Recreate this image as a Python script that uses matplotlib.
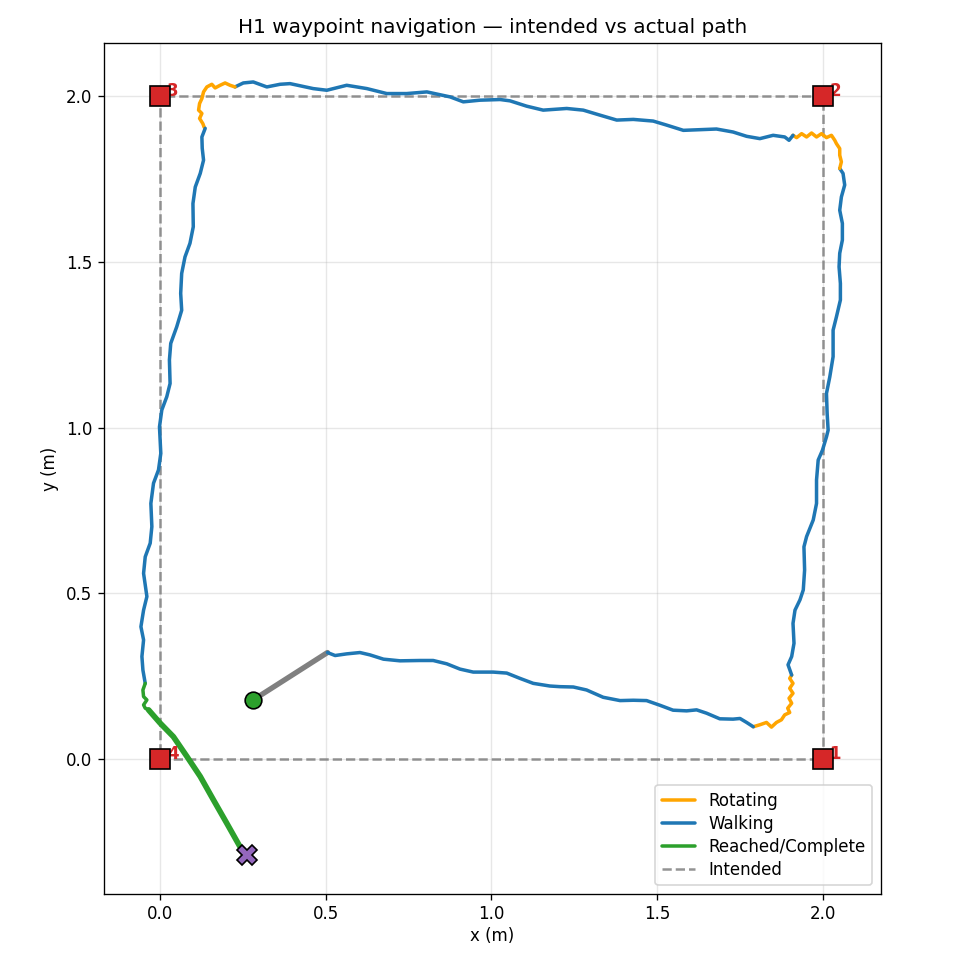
import numpy as np
import matplotlib
matplotlib.use("Agg")
import matplotlib.pyplot as plt

# waypoints of the intended square path
waypoints_x = [2.0, 2.0, 0.0, 0.0]
waypoints_y = [0.0, 2.0, 2.0, 0.0]
waypoint_labels = ["1", "2", "3", "4"]
intended_x = [0.0, 2.0, 2.0, 0.0, 0.0]
intended_y = [0.0, 0.0, 2.0, 2.0, 0.0]

start_xy = (0.281, 0.178)
end_xy = (0.263, -0.290)

# actual path, split by state (x, y in metres)
idle = [(0.281, 0.178), (0.505, 0.321)]

walk_bottom = [
    (0.505, 0.321), (0.528, 0.312), (0.563, 0.317), (0.603, 0.321), (0.633, 0.314),
    (0.674, 0.301), (0.724, 0.296), (0.784, 0.297), (0.824, 0.297), (0.865, 0.287),
    (0.905, 0.271), (0.945, 0.262), (1.005, 0.262), (1.046, 0.259), (1.086, 0.243),
    (1.126, 0.228), (1.176, 0.220), (1.207, 0.218), (1.247, 0.217), (1.287, 0.208),
    (1.337, 0.186), (1.388, 0.176), (1.428, 0.177), (1.468, 0.176), (1.508, 0.162),
    (1.548, 0.147), (1.589, 0.145), (1.619, 0.148), (1.649, 0.138), (1.689, 0.121),
    (1.729, 0.120), (1.750, 0.122), (1.770, 0.110), (1.790, 0.097),
]

rotate_1 = [
    (1.790, 0.097), (1.810, 0.103), (1.830, 0.110), (1.845, 0.096), (1.860, 0.110),
    (1.875, 0.118), (1.885, 0.133), (1.900, 0.140), (1.894, 0.153), (1.906, 0.168),
    (1.898, 0.183), (1.910, 0.198), (1.900, 0.213), (1.910, 0.228), (1.900, 0.243),
    (1.906, 0.253),
]

walk_right = [
    (1.906, 0.253), (1.895, 0.284), (1.906, 0.309), (1.913, 0.349), (1.910, 0.409),
    (1.916, 0.449), (1.931, 0.480), (1.941, 0.510), (1.945, 0.570), (1.943, 0.640),
    (1.951, 0.671), (1.971, 0.721), (1.981, 0.771), (1.981, 0.842), (1.986, 0.902),
    (1.999, 0.932), (2.011, 0.972), (2.016, 0.992), (2.013, 1.043), (2.011, 1.103),
    (2.021, 1.153), (2.031, 1.214), (2.031, 1.294), (2.041, 1.334), (2.053, 1.385),
    (2.053, 1.435), (2.049, 1.485), (2.051, 1.526), (2.059, 1.566), (2.059, 1.616),
    (2.051, 1.656), (2.056, 1.696), (2.066, 1.732), (2.061, 1.767), (2.051, 1.782),
]

rotate_2 = [
    (2.051, 1.782), (2.056, 1.802), (2.051, 1.822), (2.051, 1.842), (2.041, 1.857),
    (2.036, 1.867), (2.026, 1.882), (2.011, 1.875), (1.996, 1.887), (1.981, 1.877),
    (1.966, 1.889), (1.951, 1.877), (1.936, 1.887), (1.921, 1.875), (1.910, 1.882),
]

walk_top = [
    (1.910, 1.882), (1.898, 1.867), (1.885, 1.877), (1.850, 1.882), (1.810, 1.872),
    (1.770, 1.879), (1.729, 1.892), (1.679, 1.901), (1.629, 1.899), (1.579, 1.897),
    (1.528, 1.913), (1.488, 1.925), (1.428, 1.930), (1.378, 1.928), (1.327, 1.943),
    (1.277, 1.958), (1.227, 1.963), (1.156, 1.958), (1.106, 1.970), (1.056, 1.986),
    (1.026, 1.990), (0.965, 1.988), (0.915, 1.983), (0.875, 1.998), (0.805, 2.013),
    (0.744, 2.008), (0.684, 2.008), (0.624, 2.023), (0.563, 2.033), (0.503, 2.018),
    (0.462, 2.023), (0.392, 2.038), (0.362, 2.036), (0.322, 2.028), (0.281, 2.043),
    (0.251, 2.040), (0.226, 2.028),
]

rotate_3 = [
    (0.226, 2.028), (0.211, 2.033), (0.196, 2.040), (0.181, 2.033), (0.166, 2.025),
    (0.156, 2.036), (0.141, 2.028), (0.131, 2.013), (0.126, 1.993), (0.119, 1.978),
    (0.116, 1.958), (0.126, 1.948), (0.119, 1.933), (0.129, 1.917), (0.133, 1.906),
]

walk_left = [
    (0.136, 1.903), (0.126, 1.877), (0.127, 1.843), (0.131, 1.807), (0.121, 1.767),
    (0.106, 1.726), (0.099, 1.676), (0.100, 1.606), (0.090, 1.556), (0.075, 1.515),
    (0.065, 1.465), (0.062, 1.405), (0.065, 1.354), (0.050, 1.304), (0.032, 1.254),
    (0.028, 1.204), (0.030, 1.133), (0.020, 1.093), (0.005, 1.053), (-0.002, 1.002),
    (0.002, 0.922), (-0.005, 0.872), (-0.020, 0.832), (-0.028, 0.771), (-0.025, 0.701),
    (-0.030, 0.651), (-0.045, 0.610), (-0.050, 0.560), (-0.040, 0.490), (-0.050, 0.449),
    (-0.058, 0.399), (-0.050, 0.359), (-0.055, 0.309), (-0.052, 0.268), (-0.045, 0.228),
]

reached = [
    (-0.045, 0.228), (-0.052, 0.208), (-0.050, 0.188), (-0.040, 0.178), (-0.050, 0.163),
    (-0.045, 0.153), (-0.035, 0.148),
]

complete = [
    (-0.035, 0.148), (0.000, 0.108), (0.040, 0.067), (0.081, 0.007), (0.121, -0.053),
    (0.161, -0.124), (0.201, -0.194), (0.241, -0.265), (0.263, -0.290),
]

C_ROT = "#ffa500"
C_WALK = "#1f77b4"
C_DONE = "#2ca02c"

fig = plt.figure(figsize=(8, 8), dpi=120)
ax = fig.add_axes([0.108, 0.069, 0.81, 0.886])


def draw(seg, color, lw=2.1, label=None):
    xs, ys = zip(*seg)
    ax.plot(xs, ys, color=color, lw=lw, label=label, solid_capstyle="round",
            solid_joinstyle="round", zorder=3)


ax.plot(intended_x, intended_y, ls="--", color="gray", alpha=0.85, lw=1.5,
        label="Intended", zorder=2)

draw(idle, "gray", lw=3.2)
draw(rotate_1, C_ROT, label="Rotating")
draw(walk_bottom, C_WALK, label="Walking")
draw(walk_right, C_WALK)
draw(rotate_2, C_ROT)
draw(walk_top, C_WALK)
draw(rotate_3, C_ROT)
draw(walk_left, C_WALK)
draw(reached, C_DONE, label="Reached/Complete")
draw(complete, C_DONE, lw=3.4)

for wx, wy, lab in zip(waypoints_x, waypoints_y, waypoint_labels):
    ax.text(wx + 0.02, wy, lab, color="#d62728", fontsize=10, fontweight="bold",
            ha="left", va="baseline", zorder=4)
ax.plot(waypoints_x, waypoints_y, "s", ms=12, color="#d62728", mec="black",
        mew=1.0, ls="none", zorder=5)

ax.plot(*start_xy, "o", ms=10, color=C_DONE, mec="black", mew=1.0, zorder=6)
ax.plot(*end_xy, "X", ms=12.5, color="#9467bd", mec="black", mew=1.0, zorder=6)

ax.set_xlim(-0.169, 2.175)
ax.set_ylim(-0.407, 2.160)
ax.set_aspect("equal")
ax.grid(alpha=0.3)
ax.set_xlabel("x (m)", labelpad=2)
ax.set_ylabel("y (m)")
ax.set_title("H1 waypoint navigation — intended vs actual path")

handles, labels = ax.get_legend_handles_labels()
order = ["Rotating", "Walking", "Reached/Complete", "Intended"]
hmap = dict(zip(labels, handles))
ax.legend([hmap[k] for k in order], order, loc="lower right", labelspacing=0.3)

fig.savefig("out.png", dpi=120)
